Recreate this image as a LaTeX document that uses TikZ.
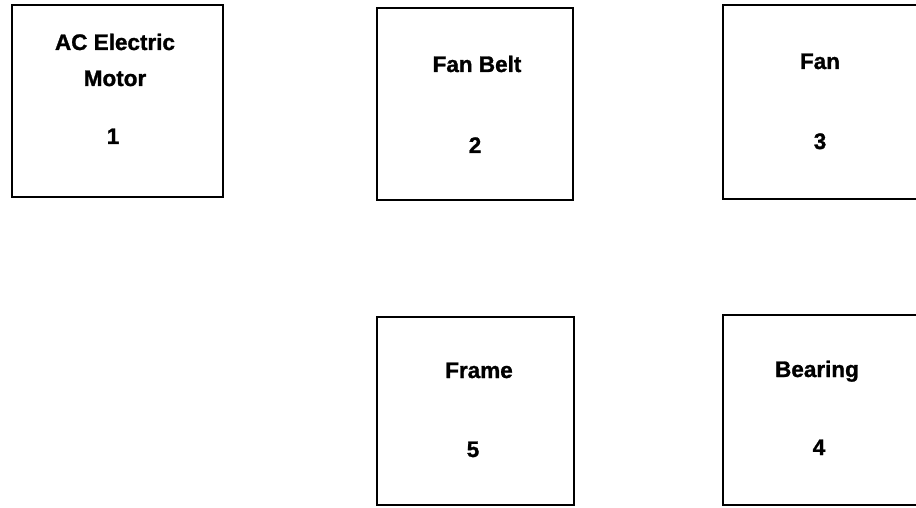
\documentclass[tikz,border=0pt]{standalone}
\usepackage{fontspec}
\setmainfont{Liberation Sans}[BoldFeatures={FakeBold=1.2}]
\begin{document}
\begin{tikzpicture}[x=1pt,y=-1pt,
  blk/.style={draw=black,line width=2.2pt,inner sep=0pt,minimum width=#1},
  lbl/.style={anchor=base,inner sep=0pt,font=\fontsize{22.5}{26}\selectfont\bfseries}]
\useasboundingbox (0,0) rectangle (916,508);
\node[blk=211pt,minimum height=192pt] (b1) at (117.5,101) {};
\node[blk=196pt,minimum height=192pt] (b2) at (475,104) {};
\node[blk=194pt,minimum height=194pt] (b3) at (820,102) {};
\node[blk=197pt,minimum height=188pt] (b5) at (475.5,411) {};
\node[blk=194pt,minimum height=190pt] (b4) at (820,410) {};
\node[lbl] (t1a) at (115,50) {AC Electric};
\node[lbl] (t1b) at (115,86) {Motor};
\node[lbl] (n1) at (113,144) {1};
\node[lbl] (t2) at (477,72) {Fan Belt};
\node[lbl] (n2) at (475,153) {2};
\node[lbl] (t3) at (820,69) {Fan};
\node[lbl] (n3) at (820,149) {3};
\node[lbl] (t5) at (479,378) {Frame};
\node[lbl] (n5) at (473,457) {5};
\node[lbl] (t4) at (817,377) {Bearing};
\node[lbl] (n4) at (819,455) {4};
\end{tikzpicture}
\end{document}
